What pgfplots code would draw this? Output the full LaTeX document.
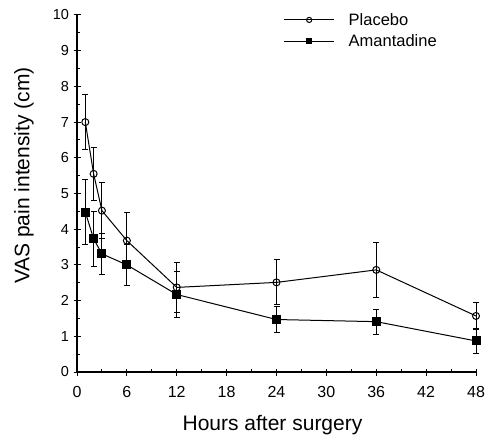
\documentclass[border=0pt]{standalone}
\usepackage{pgfplots}
\pgfplotsset{compat=1.18}
\usepackage{fontspec}
\setmainfont{Liberation Sans}

\begin{document}
\begin{tikzpicture}
\begin{axis}[
    scale only axis,
    width=399pt, height=357pt,
    axis lines=left,
    axis line style={-, line width=1.2pt},
    xmin=0, xmax=48, ymin=0, ymax=10,
    xtick={0,6,...,48}, ytick={0,1,...,10},
    minor xtick={3,9,...,45},
    minor ytick={0.5,1.5,...,9.5},
    tick align=center,
    major tick length=7pt, minor tick length=3pt,
    minor x tick style={yshift=1.5pt},
    minor y tick style={xshift=1.5pt},
    tick style={black, line width=1pt},
    xticklabel style={font=\fontsize{16}{18}\selectfont, yshift=-7pt},
    yticklabel style={font=\fontsize{14.5}{16}\selectfont, xshift=-1pt},
    /pgf/number format/assume math mode=true,
    xlabel={Hours after surgery},
    ylabel={VAS pain intensity (cm)},
    label style={font=\fontsize{21}{23}\selectfont},
    xlabel style={at={(axis description cs:0.49,0)}, anchor=base, yshift=-58pt},
    ylabel style={at={(axis description cs:0,0.55)}, anchor=center, yshift=53pt},
    clip=false,
    legend style={draw=none, fill=none, at={(0.51,1.0)}, anchor=north west,
        font=\fontsize{16.5}{18}\selectfont, row sep=4pt, column sep=12pt, yshift=6pt},
    legend cell align=left,
    every axis plot/.append style={line width=1pt},
    legend image code/.code={
        \draw[mark repeat=2, mark phase=2, mark size=2.6pt]
            plot coordinates {(0pt,0pt) (25pt,0pt) (50pt,0pt)};},
]
\addplot[black, mark=o, mark size=3.5pt, mark options={fill=white, line width=1pt},
    error bars/.cd, y dir=both, y explicit, error bar style={line width=0.9pt},
    error mark options={rotate=90, mark size=3pt, line width=0.9pt}]
coordinates {
    (1,7.0) +- (0,0.78)
    (2,5.55) +- (0,0.75)
    (3,4.52) +- (0,0.78)
    (6,3.68) +- (0,0.79)
    (12,2.37) +- (0,0.70)
    (24,2.51) +- (0,0.63)
    (36,2.86) +- (0,0.77)
    (48,1.57) +- (0,0.38)
};
\addlegendentry{Placebo}
\addplot[black, mark=square*, mark size=4pt, mark options={fill=black},
    error bars/.cd, y dir=both, y explicit, error bar style={line width=0.9pt},
    error mark options={rotate=90, mark size=3pt, line width=0.9pt}]
coordinates {
    (1,4.48) +- (0,0.92)
    (2,3.73) +- (0,0.76)
    (3,3.31) +- (0,0.58)
    (6,3.0) +- (0,0.57)
    (12,2.17) +- (0,0.64)
    (24,1.47) +- (0,0.36)
    (36,1.41) +- (0,0.35)
    (48,0.87) +- (0,0.35)
};
\addlegendentry{Amantadine}
\coordinate (bl) at (rel axis cs:0,0);
\end{axis}
\pgfresetboundingbox
\path (bl) ++(-77pt,-64pt) rectangle ++(486pt,436pt);
\end{tikzpicture}
\end{document}
